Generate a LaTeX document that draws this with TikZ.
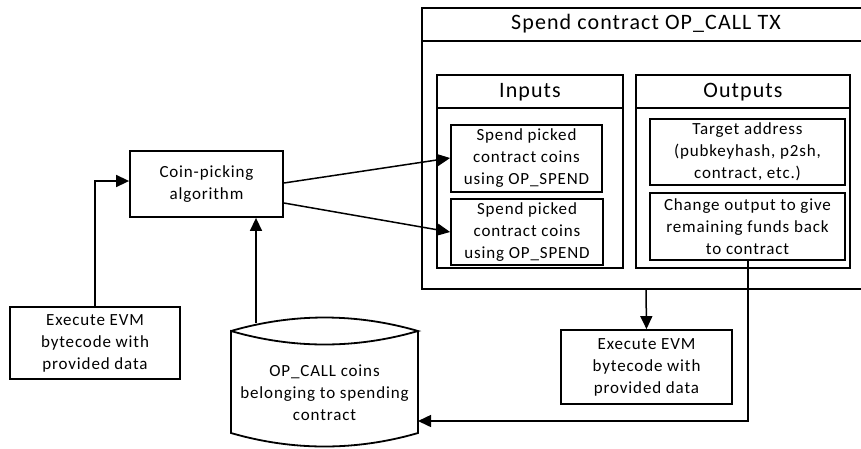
\documentclass[tikz,border=0pt]{standalone}
\usepackage{fontspec}
\setmainfont{Carlito}[LetterSpace=5]
\usetikzlibrary{arrows.meta}
\begin{document}
\begin{tikzpicture}[x=1pt,y=-1pt,
  line width=1.8pt,
  box/.style={draw,line width=1.8pt,rectangle,inner sep=0pt,align=center,
    font=\fontsize{17}{22}\selectfont},
  lbl/.style={inner sep=0pt,align=center,font=\fontsize{17}{22}\selectfont},
  hdr/.style={inner sep=0pt,font=\fontsize{22}{26}\selectfont},
  arr/.style={-{Triangle[length=13pt,width=12pt]},line width=1.5pt},
  ln/.style={line width=1.5pt}]
\useasboundingbox (0,0) rectangle (861,448);
% outer TX box
\draw (422,8) rectangle (880,289);
\draw (422,41) -- (880,41);
\node[hdr] (title) at (646,24) {Spend contract OP\_CALL TX};
\coordinate (txbot) at (646,289);
% inputs
\draw (437,75) rectangle (623,268);
\draw (437,108) -- (623,108);
\node[hdr] (inputs) at (530,92) {Inputs};
% outputs
\draw (636,75) rectangle (850,268);
\draw (636,108) -- (850,108);
\node[hdr] (outputs) at (743,92) {Outputs};
% inner boxes
\node[box,minimum width=151pt,minimum height=67pt] (spend1) at (526.5,158.5)
  {Spend picked\\contract coins\\using OP\_SPEND};
\node[box,minimum width=152pt,minimum height=66pt] (spend2) at (527,232)
  {Spend picked\\contract coins\\using OP\_SPEND};
\node[box,minimum width=195pt,minimum height=66pt] (target) at (747.5,152)
  {Target address\\(pubkeyhash, p2sh,\\contract, etc.)};
\node[box,minimum width=195pt,minimum height=67pt] (change) at (747.5,226.5)
  {Change output to give\\remaining funds back\\to contract};
% coin picking
\node[box,minimum width=153pt,minimum height=66pt] (coin) at (206.5,184)
  {Coin-picking\\algorithm};
% execute boxes
\node[box,minimum width=170pt,minimum height=72pt] (exec1) at (95,343)
  {Execute EVM\\bytecode with\\provided data};
\node[box,minimum width=171pt,minimum height=74pt] (exec2) at (646.5,367)
  {Execute EVM\\bytecode with\\provided data};
% cylinder
\draw (231,331) .. controls (293,313) and (356,313) .. (418,331)
  .. controls (356,349) and (293,349) .. (231,331)
  -- (231,433) .. controls (293,451) and (356,451) .. (418,433) -- (418,331);
\node[lbl] (store) at (324.5,393) {OP\_CALL coins\\belonging to spending\\contract};
\coordinate (cyltop) at (256,323);
\coordinate (cylright) at (418,421);
% connectors
\draw[arr] (exec1.north) |- ([yshift=3pt]coin.west);
\draw[arr] (cyltop) -- (cyltop |- coin.south);
\draw[arr] ([yshift=1pt]coin.east) -- ([yshift=0.5pt]spend1.west);
\draw[arr] ([yshift=-19pt]coin.east) -- (spend2.west);
\draw[arr] (txbot) -- (exec2.north);
\draw[arr] ([xshift=0.5pt]change.south) |- (cylright);
\end{tikzpicture}
\end{document}
